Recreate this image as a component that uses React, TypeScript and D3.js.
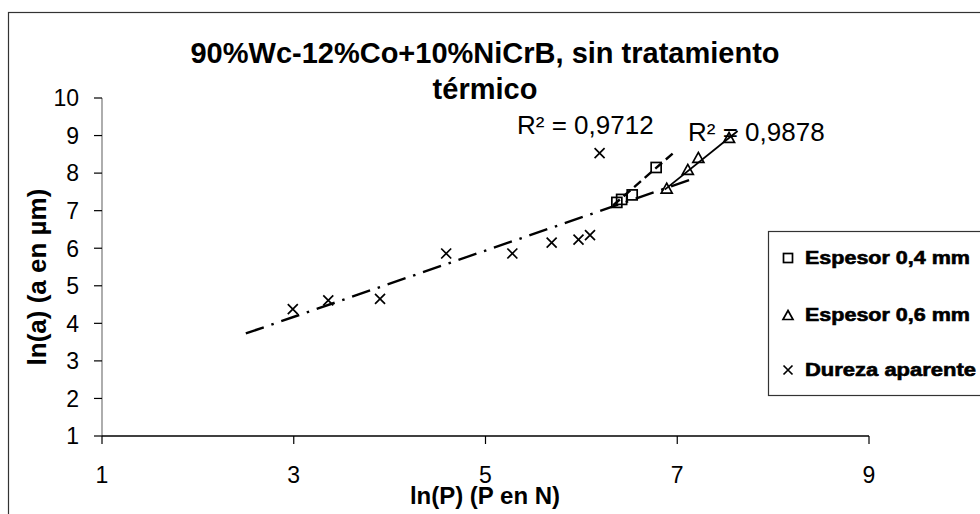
import React from "react";
import * as d3 from "d3";

const W = 980;
const H = 514;

// Data
const durezaX = [2.99, 3.36, 3.9, 4.59, 5.28, 5.69, 5.97, 6.09, 6.19];
const durezaY = [4.38, 4.61, 4.65, 5.86, 5.86, 6.15, 6.23, 6.35, 8.53];
const esp04X = [6.37, 6.42, 6.53, 6.78];
const esp04Y = [7.22, 7.3, 7.42, 8.15];
const esp06X = [6.89, 7.11, 7.22, 7.54];
const esp06Y = [7.6, 8.1, 8.42, 8.95];

// Trend line end points (as drawn)
const trendDurezaX = [2.5, 7.2];
const trendDurezaY = [3.73, 7.88];
const trend04X = [6.33, 6.97];
const trend04Y = [7.14, 8.56];
const trend06X = [6.87, 7.63];
const trend06Y = [7.56, 9.12];

const xTicks = [1, 3, 5, 7, 9];
const yTicks = [1, 2, 3, 4, 5, 6, 7, 8, 9, 10];

const titleLines = ["90%Wc-12%Co+10%NiCrB, sin tratamiento", "térmico"];
const xTitle = "ln(P) (P en N)";
const yTitle = "ln(a) (a en µm)";
const r2Labels = ["R² = 0,9712", "R² = 0,9878"];
const legendLabels = ["Espesor 0,4 mm", "Espesor 0,6 mm", "Dureza aparente"];

const FONT = "'Liberation Sans', Arial, Helvetica, sans-serif";

function Square({ x, y, s = 10 }: { x: number; y: number; s?: number }) {
  return <rect x={x - s / 2} y={y - s / 2} width={s} height={s} fill="none" stroke="#000" strokeWidth={1.7} />;
}
function Tri({ x, y, s = 11 }: { x: number; y: number; s?: number }) {
  const h = s * 0.9;
  const p = `M${x},${y - h / 2}L${x + s / 2},${y + h / 2}L${x - s / 2},${y + h / 2}Z`;
  return <path d={p} fill="none" stroke="#000" strokeWidth={1.7} />;
}
function Cross({ x, y, s = 10 }: { x: number; y: number; s?: number }) {
  const r = s / 2;
  return (
    <path d={`M${x - r},${y - r}L${x + r},${y + r}M${x - r},${y + r}L${x + r},${y - r}`} stroke="#000" strokeWidth={1.7} fill="none" />
  );
}

export default function App() {
  const x = d3.scaleLinear().domain([1, 9]).range([102, 869]);
  const y = d3.scaleLinear().domain([1, 10]).range([436, 98]);
  const line = d3
    .line<[number, number]>()
    .x((d) => x(d[0]))
    .y((d) => y(d[1]));
  const pts = (xs: number[], ys: number[]) => xs.map((v, i) => [v, ys[i]] as [number, number]);
  const legendY = [258, 315, 370];
  const legendW = [165, 165, 171];

  return (
    <div style={{ position: "fixed", left: 0, top: 0 }}>
      <svg width={W} height={H} style={{ display: "block", background: "#fff" }} fontFamily={FONT}>
        <rect x={0} y={0} width={W} height={H} fill="#fff" />
        {/* chart border */}
        <rect x={8.5} y={12.5} width={1000} height={600} fill="none" stroke="#333" strokeWidth={1.2} />

        {/* title */}
        <text x={485} y={63} textAnchor="middle" fontSize={29} fontWeight="bold">
          {titleLines[0]}
        </text>
        <text x={485} y={99} textAnchor="middle" fontSize={29} fontWeight="bold">
          {titleLines[1]}
        </text>

        {/* y axis */}
        <line x1={x(1)} x2={x(1)} y1={y(10)} y2={y(1)} stroke="#777" strokeWidth={1.2} />
        {yTicks.map((t) => (
          <g key={"yt" + t}>
            <line x1={x(1) - 8} x2={x(1)} y1={y(t)} y2={y(t)} stroke="#000" strokeWidth={1.2} />
            <text x={79} y={y(t)} dy="0.36em" textAnchor="end" fontSize={23}>
              {t}
            </text>
          </g>
        ))}

        {/* x axis */}
        <line x1={x(1)} x2={x(9)} y1={y(1)} y2={y(1)} stroke="#000" strokeWidth={1.4} />
        {xTicks.map((t) => (
          <g key={"xt" + t}>
            <line x1={x(t)} x2={x(t)} y1={y(1)} y2={y(1) + 8} stroke="#000" strokeWidth={1.2} />
            <text x={x(t)} y={483} textAnchor="middle" fontSize={23}>
              {t}
            </text>
          </g>
        ))}

        {/* axis titles */}
        <text x={485} y={504} textAnchor="middle" fontSize={24} fontWeight="bold">
          {xTitle}
        </text>
        <text transform={`translate(46,277) rotate(-90)`} textAnchor="middle" fontSize={26} fontWeight="bold">
          {yTitle}
        </text>

        {/* trend lines */}
        <path d={line(pts(trendDurezaX, trendDurezaY)) || ""} stroke="#000" strokeWidth={2.4} fill="none" strokeDasharray="19,8,2.5,8" />
        <path d={line(pts(trend04X, trend04Y)) || ""} stroke="#000" strokeWidth={2.4} fill="none" strokeDasharray="9,5" />
        <path d={line(pts(trend06X, trend06Y)) || ""} stroke="#000" strokeWidth={1.8} fill="none" />

        {/* markers */}
        {durezaX.map((v, i) => (
          <Cross key={"d" + i} x={x(v)} y={y(durezaY[i])} />
        ))}
        {esp04X.map((v, i) => (
          <Square key={"s" + i} x={x(v)} y={y(esp04Y[i])} />
        ))}
        {esp06X.map((v, i) => (
          <Tri key={"t" + i} x={x(v)} y={y(esp06Y[i])} />
        ))}

        {/* R2 labels */}
        <text x={517} y={134} fontSize={26}>
          {r2Labels[0]}
        </text>
        <text x={688} y={141} fontSize={26}>
          {r2Labels[1]}
        </text>

        {/* legend */}
        <rect x={768.5} y={231.5} width={230} height={164} fill="#fff" stroke="#333" strokeWidth={1.2} />
        <Square x={788} y={legendY[0]} s={9} />
        <Tri x={788} y={legendY[1]} s={10} />
        <Cross x={788} y={legendY[2]} s={9} />
        {legendLabels.map((l, i) => (
          <text
            key={"lg" + i}
            x={805}
            y={legendY[i]}
            dy="0.36em"
            fontSize={18}
            fontWeight="bold"
            stroke="#000"
            strokeWidth={0.6}
            textLength={legendW[i]}
            lengthAdjust="spacingAndGlyphs"
          >
            {l}
          </text>
        ))}
      </svg>
    </div>
  );
}
